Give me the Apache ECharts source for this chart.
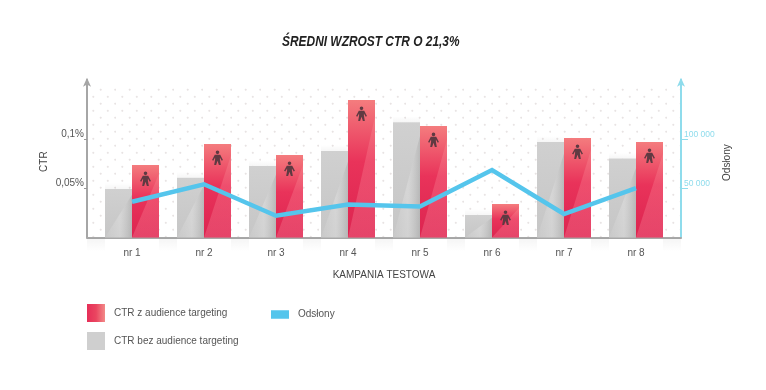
<!DOCTYPE html>
<html><head><meta charset="utf-8">
<style>html,body{margin:0;padding:0;background:#fff}#c{width:766px;height:390px}</style>
<script src="https://cdn.jsdelivr.net/npm/echarts@6/dist/echarts.min.js"></script>
</head><body><div id="c"></div>
<script>
const categories = ['nr 1','nr 2','nr 3','nr 4','nr 5','nr 6','nr 7','nr 8'];
const ctrWith = [0.0735,0.0948,0.0837,0.1394,0.113,0.034,0.101,0.0968];
const ctrWithout = [0.0492,0.0606,0.0725,0.0877,0.117,0.0228,0.0968,0.08];
const impressions = [36300,54000,22100,33500,31500,68500,23800,50000];
const ctrTicks = [0.05,0.1];
const impressionTicks = [50000,100000];
const nameWith = 'CTR z audience targeting';
const nameWithout = 'CTR bez audience targeting';
const nameLine = 'Odsłony';
const titleText = 'ŚREDNI WZROST CTR O 21,3%';

const FONT = '"Liberation Sans", Arial, sans-serif';
const grad = (x,y,x2,y2,stops)=>new echarts.graphic.LinearGradient(x,y,x2,y2,stops.map((c,i)=>({offset:c[0],color:c[1]})));

// dotted paper background
const tile = document.createElement('canvas'); tile.width=29; tile.height=14;
const t = tile.getContext('2d');
t.fillStyle='#e6e1e1';
[[13.7,5.7],[28.2,5.7],[6.3,12.8],[20.8,12.8]].forEach(p=>{
  t.fillRect(p[0]-1,p[1]-0.5,2,1); t.fillRect(p[0]-0.5,p[1]-1,1,2);
});

const PERSON = 'M12 2a3 3 0 1 1 0 6a3 3 0 0 1 0-6z M7.5 9H16.5L21 17.5L19 18.8L16 13.5V17L17.5 26H14.3L12 19L9.7 26H6.5L8 17V13.5L5 18.8L3 17.5Z';

function overlay(isRed){
  return function(params, api){
    const i = api.value(0), v = api.value(1);
    const w = api.size([1,0])[0]*0.375;
    const c = api.coord([i,v]), b = api.coord([i,0]);
    const x0 = isRed ? c[0] : c[0]-w, x1 = x0+w, yt=c[1], yb=b[1], h=yb-yt;
    const kids = [{
      type:'polygon', silent:true,
      shape:{points:[[x0,yb],[x1,yt+h*0.12],[x1,yb]]},
      style:{fill: isRed
        ? grad(0,0,0,1,[[0,'rgba(255,170,170,0.22)'],[1,'rgba(255,150,170,0.28)']])
        : grad(0,0,1,0,[[0,'rgba(255,255,255,0.05)'],[0.55,'rgba(255,255,255,0.22)'],[1,'rgba(140,140,140,0.30)']])}
    }];
    if(isRed){
      kids.push({type:'path', silent:true,
        shape:{pathData:PERSON, x:x0+w/2-5.5, y:yt+6.5, width:11, height:14.5},
        style:{fill:'#5f3a42'}});
    }
    return {type:'group', children:kids};
  };
}
function shade(params, api){
  const i = api.value(0), v = api.value(1);
  const w = api.size([1,0])[0]*0.375;
  const gap = api.size([1,0])[0]*0.25;
  const c = api.coord([i,v]), b = api.coord([i,0]);
  const x0 = c[0]-w;
  const under = ()=>grad(0,0,0,1,[[0,'rgba(0,0,0,0.04)'],[1,'rgba(0,0,0,0)']]);
  const kids = [
    {type:'rect', silent:true, shape:{x:x0,y:c[1]-6,width:w,height:6},
     style:{fill:grad(0,0,0,1,[[0,'rgba(0,0,0,0)'],[1,'rgba(0,0,0,0.035)']])}},
    {type:'rect', silent:true, shape:{x:x0-gap,y:b[1]+1,width:gap,height:13},style:{fill:under()}}
  ];
  if(i===categories.length-1){
    kids.push({type:'rect', silent:true, shape:{x:x0+2*w,y:b[1]+1,width:gap,height:13},style:{fill:under()}});
  }
  return {type:'group', children:kids};
}

const chart = echarts.init(document.getElementById('c'),null,{renderer:'canvas'});
const labelStyle = {fontFamily:FONT,fontSize:10,color:'#555'};
chart.setOption({
  animation:false,
  backgroundColor:'#fff',
  graphic:[{type:'text',x:282,y:34,scaleX:0.795,silent:true,
    style:{text:titleText,fontFamily:FONT,fontWeight:'bold',fontStyle:'italic',fontSize:15,fill:'#222'}}],
  grid:[
    {left:96,width:576,top:79.74,height:157.76,show:false},
    {left:87,width:594,top:86,height:151.5,show:true,borderWidth:0,backgroundColor:{image:tile,repeat:'repeat'}}
  ],
  xAxis:[
    {type:'category',gridIndex:0,data:categories,boundaryGap:true,
     axisLine:{show:false},axisTick:{show:false},
     axisLabel:Object.assign({margin:11},labelStyle),
     name:'KAMPANIA TESTOWA',nameLocation:'middle',nameGap:33,
     nameTextStyle:{fontFamily:FONT,fontSize:10,color:'#444'}},
    {type:'value',gridIndex:1,min:0,max:1,splitLine:{show:false},axisTick:{show:false},axisLabel:{show:false},
     axisLine:{show:true,lineStyle:{color:'#a8a8a8',width:2}}}
  ],
  yAxis:[
    {type:'value',gridIndex:0,position:'left',offset:9,min:0,max:0.16,splitLine:{show:false},
     axisLine:{show:true,symbol:['none','arrow'],symbolSize:[6,9],symbolOffset:[0,2],lineStyle:{color:'#a6a6a6',width:2}},
     axisTick:{show:true,customValues:ctrTicks,length:3,lineStyle:{color:'#999'}},
     axisLabel:Object.assign({customValues:ctrTicks,margin:3,verticalAlign:'bottom',
       formatter:v=>String(v).replace('.',',')+'%'},labelStyle),
     name:'CTR',nameLocation:'middle',nameGap:38,nameRotate:90,nameMoveOverlap:false,
     nameTextStyle:{fontFamily:FONT,fontSize:10,color:'#444',padding:[0,6,0,0]}},
    {type:'value',gridIndex:0,position:'right',offset:9,min:0,max:160000,splitLine:{show:false},
     axisLine:{show:true,symbol:['none','arrow'],symbolSize:[6,9],symbolOffset:[0,2],lineStyle:{color:'#8fdcec',width:2}},
     axisTick:{show:true,customValues:impressionTicks,length:7,lineStyle:{color:'#8fdcec'}},
     axisLabel:{customValues:impressionTicks,margin:3,verticalAlign:'bottom',fontFamily:FONT,fontSize:8.5,color:'#8fdcec',
       formatter:v=>String(v).replace(/000$/,' 000')},
     name:nameLine,nameLocation:'middle',nameGap:41,nameRotate:90,nameMoveOverlap:false,
     nameTextStyle:{fontFamily:FONT,fontSize:10,color:'#444',padding:[0,8,0,0]}},
    {type:'value',gridIndex:1,show:false,min:0,max:1}
  ],
  legend:[
    {orient:'vertical',left:87,top:304,padding:0,itemWidth:18,itemHeight:18,itemGap:10,selectedMode:false,
     textStyle:{fontFamily:FONT,fontSize:10,color:'#555',padding:[0,0,0,4]},
     data:[
       {name:nameWith,icon:'rect',itemStyle:{color:grad(0,0,1,0,[[0,'#e62e58'],[0.5,'#ea4560'],[1,'#f28a88']])}},
       {name:nameWithout,icon:'rect',itemStyle:{color:'#cfcfcf'}}
     ]},
    {orient:'vertical',left:271,top:309.5,padding:0,itemWidth:18,itemHeight:8.5,selectedMode:false,
     textStyle:{fontFamily:FONT,fontSize:10,color:'#555',padding:[0,0,0,4]},
     data:[{name:nameLine,icon:'rect',itemStyle:{color:'#55c5ec'}}]}
  ],
  series:[
    {type:'custom',name:'shade',xAxisIndex:0,yAxisIndex:0,z:1,silent:true,renderItem:shade,
     encode:{x:0,y:1},data:ctrWithout.map((v,i)=>[i,v])},
    {type:'bar',name:nameWithout,xAxisIndex:0,yAxisIndex:0,barWidth:27,barGap:0,z:2,data:ctrWithout,
     itemStyle:{color:grad(0,0,0,1,[[0,'#d0d0d0'],[1,'#c6c6c6']])}},
    {type:'bar',name:nameWith,xAxisIndex:0,yAxisIndex:0,barWidth:27,barGap:0,z:2,data:ctrWith,
     itemStyle:{color:grad(0,0,0,1,[[0,'#f47c7e'],[0.45,'#e9335a'],[1,'#dc2450']])}},
    {type:'custom',name:'shineGrey',xAxisIndex:0,yAxisIndex:0,z:3,silent:true,renderItem:overlay(false),
     encode:{x:0,y:1},data:ctrWithout.map((v,i)=>[i,v])},
    {type:'custom',name:'shineRed',xAxisIndex:0,yAxisIndex:0,z:3,silent:true,renderItem:overlay(true),
     encode:{x:0,y:1},data:ctrWith.map((v,i)=>[i,v])},
    {type:'line',name:nameLine,xAxisIndex:0,yAxisIndex:1,z:5,data:impressions,symbol:'none',
     lineStyle:{color:'#55c5ec',width:4.5,cap:'butt',join:'miter'},itemStyle:{color:'#55c5ec'}}
  ]
});
</script></body></html>
